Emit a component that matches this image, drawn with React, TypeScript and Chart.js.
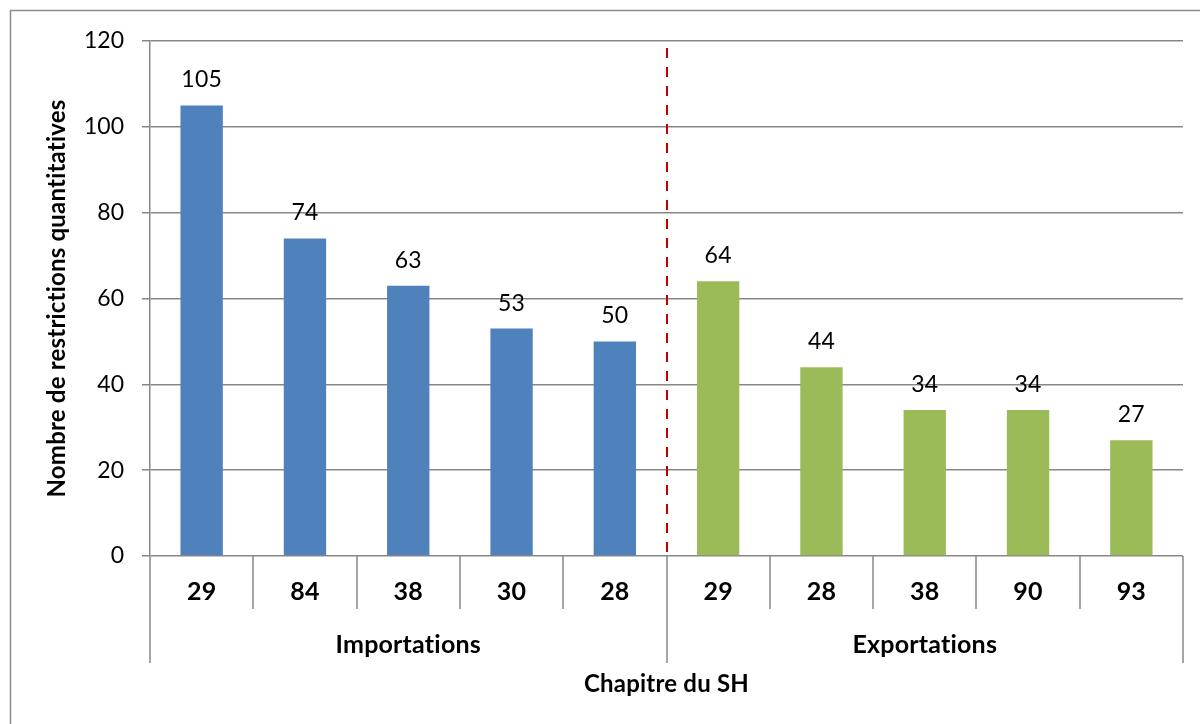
import React, { useEffect, useRef } from "react";
import { Chart, registerables } from "chart.js";

Chart.register(...registerables);

// HS chapter codes, grouped by trade direction
const importCodes = ["29", "84", "38", "30", "28"];
const exportCodes = ["29", "28", "38", "90", "93"];
const groupNames = ["Importations", "Exportations"];

// Number of quantitative restrictions per chapter
const importValues = [105, 74, 63, 53, 50];
const exportValues = [64, 44, 34, 34, 27];

// Y axis ticks
const yTicks = [0, 20, 40, 60, 80, 100, 120];

const yTitle = "Nombre de restrictions quantitatives";
const xTitle = "Chapitre du SH";

const FONT = "Lato, 'Open Sans', sans-serif";
const GRID = "#878787";

export default function App() {
  const ref = useRef<HTMLCanvasElement | null>(null);

  useEffect(() => {
    const canvas = ref.current;
    if (!canvas) return;

    const labels = [...importCodes, ...exportCodes];
    const pad = (n: number) => Array(n).fill(null);
    const importData = [...importValues, ...pad(exportValues.length)];
    const exportData = [...pad(importValues.length), ...exportValues];

    const axisPlugin = {
      id: "multiLevelAxis",
      afterDraw(chart: any) {
        const { ctx, chartArea, scales } = chart;
        const x = scales.x;
        const n = labels.length;
        const step = (chartArea.right - chartArea.left) / n;
        const bottom = chartArea.bottom;

        ctx.save();
        // small spacing keeps "ti" from turning into a ligature
        (ctx as any).letterSpacing = "0.2px";

        // outer frame
        ctx.strokeStyle = "#8c8c8c";
        ctx.lineWidth = 1.5;
        ctx.strokeRect(10.5, 10.5, 1300, 800);

        // data labels
        ctx.fillStyle = "#000";
        ctx.font = `23px ${FONT}`;
        ctx.textAlign = "center";
        ctx.textBaseline = "alphabetic";
        chart.data.datasets.forEach((ds: any, di: number) => {
          const meta = chart.getDatasetMeta(di);
          meta.data.forEach((bar: any, i: number) => {
            const v = ds.data[i];
            if (v === null || v === undefined) return;
            ctx.fillText(String(v), bar.x, bar.y - 18);
          });
        });

        // separator between imports and exports
        const splitX = x.getPixelForValue(importCodes.length - 1) + step / 2;
        ctx.strokeStyle = "#c00000";
        ctx.lineWidth = 2;
        ctx.setLineDash([10, 9]);
        ctx.beginPath();
        ctx.moveTo(Math.round(splitX), chartArea.top + 7);
        ctx.lineTo(Math.round(splitX), bottom);
        ctx.stroke();
        ctx.setLineDash([]);

        // category dividers
        ctx.strokeStyle = GRID;
        ctx.lineWidth = 1.5;
        for (let i = 0; i <= n; i++) {
          const bx = Math.round(chartArea.left + i * step);
          const isGroup = i === 0 || i === importCodes.length || i === n;
          ctx.beginPath();
          ctx.moveTo(bx, bottom);
          ctx.lineTo(bx, bottom + (isGroup ? 107 : 53));
          ctx.stroke();
        }

        // chapter codes
        ctx.fillStyle = "#000";
        ctx.font = `bold 25px ${FONT}`;
        labels.forEach((lab, i) => {
          ctx.fillText(lab, x.getPixelForValue(i), bottom + 44);
        });

        // group labels
        const groups = [
          [0, importCodes.length],
          [importCodes.length, n],
        ];
        ctx.font = `bold 25px ${FONT}`;
        groups.forEach(([a, b], gi) => {
          const cx = chartArea.left + ((a + b) / 2) * step;
          ctx.fillText(groupNames[gi], cx, bottom + 97);
        });

        // x axis title
        ctx.font = `bold 24px ${FONT}`;
        ctx.fillText(xTitle, (chartArea.left + chartArea.right) / 2, bottom + 136);

        // y axis title
        ctx.translate(57, (chartArea.top + chartArea.bottom) / 2);
        ctx.rotate(-Math.PI / 2);
        ctx.textBaseline = "middle";
        ctx.font = `bold 24px ${FONT}`;
        ctx.fillText(yTitle, 0, 0);

        ctx.restore();
      },
    };

    const chart = new Chart(canvas, {
      type: "bar",
      data: {
        labels,
        datasets: [
          {
            label: groupNames[0],
            data: importData,
            backgroundColor: "#4f81bd",
            grouped: false,
            barPercentage: 0.41,
            categoryPercentage: 1,
          } as any,
          {
            label: groupNames[1],
            data: exportData,
            backgroundColor: "#9bbb59",
            grouped: false,
            barPercentage: 0.41,
            categoryPercentage: 1,
          } as any,
        ],
      },
      options: {
        responsive: false,
        animation: false,
        layout: { padding: { top: 41, left: 0, right: 17, bottom: 168 } },
        plugins: {
          legend: { display: false },
          tooltip: { enabled: false },
        },
        scales: {
          x: {
            display: false,
            offset: true,
          },
          y: {
            min: yTicks[0],
            max: yTicks[yTicks.length - 1],
            afterFit(scale: any) {
              scale.width = 150;
            },
            afterBuildTicks(scale: any) {
              scale.ticks = yTicks.map((v) => ({ value: v }));
            },
            ticks: {
              color: "#000",
              padding: 18,
              font: { family: FONT, size: 23 },
            },
            grid: {
              color: GRID,
              lineWidth: 1.5,
              tickLength: 8,
            },
            border: { color: GRID, width: 1.5 },
          },
        },
      },
      plugins: [axisPlugin],
    });

    return () => chart.destroy();
  }, []);

  return (
    <div style={{ position: "absolute", left: 0, top: 0, width: 1200, height: 724, background: "#fff" }}>
      <canvas ref={ref} width={1200} height={724} />
    </div>
  );
}
